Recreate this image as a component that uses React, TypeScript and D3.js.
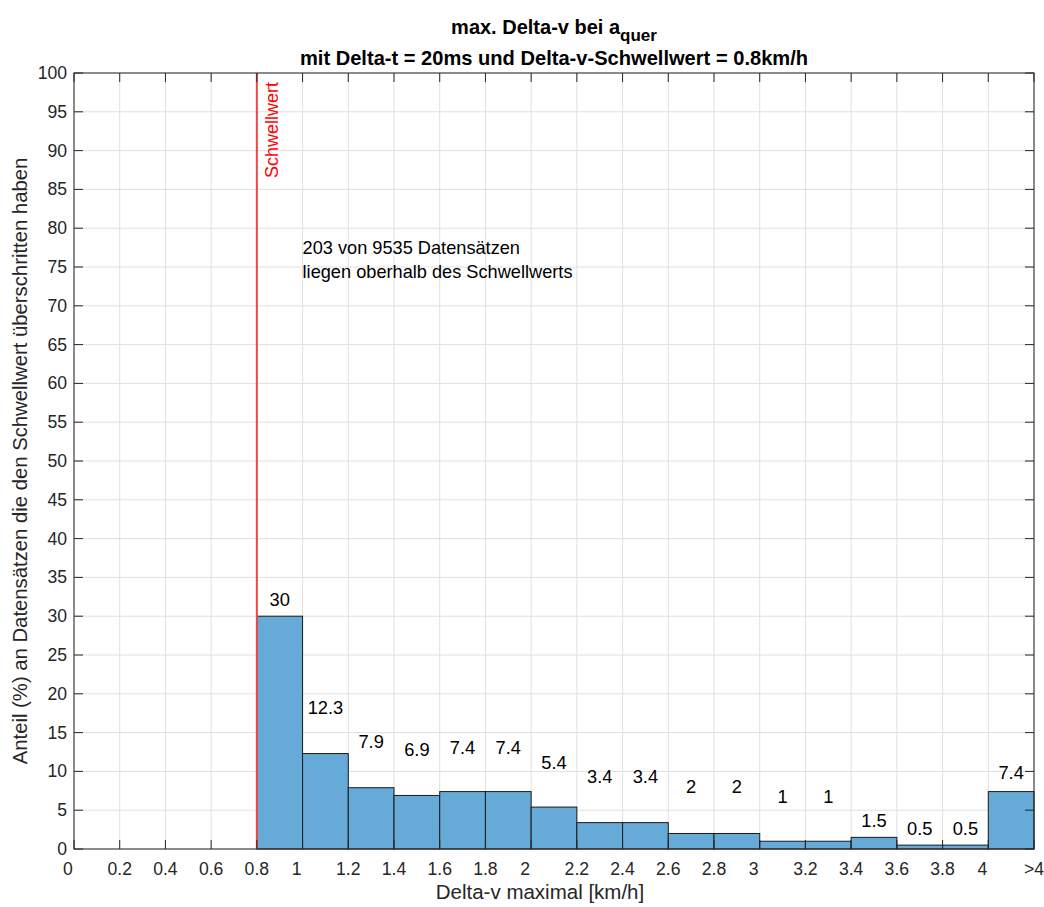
import React from "react";
import * as d3 from "d3";

// ---- data ----
const binStarts = [0.8, 1.0, 1.2, 1.4, 1.6, 1.8, 2.0, 2.2, 2.4, 2.6, 2.8, 3.0, 3.2, 3.4, 3.6, 3.8, 4.0];
const binWidth = 0.2;
const binValues = [30, 12.3, 7.9, 6.9, 7.4, 7.4, 5.4, 3.4, 3.4, 2, 2, 1, 1, 1.5, 0.5, 0.5, 7.4];
const binLabels = ["30", "12.3", "7.9", "6.9", "7.4", "7.4", "5.4", "3.4", "3.4", "2", "2", "1", "1", "1.5", "0.5", "0.5", "7.4"];
// y position (data units) of each value label
const binLabelY = [32.1, 18.2, 13.8, 12.8, 13.1, 13.1, 11.2, 9.3, 9.3, 8.0, 8.0, 6.8, 6.8, 3.7, 2.7, 2.7, 9.8];

const xTickValues = [0, 0.2, 0.4, 0.6, 0.8, 1, 1.2, 1.4, 1.6, 1.8, 2, 2.2, 2.4, 2.6, 2.8, 3, 3.2, 3.4, 3.6, 3.8, 4, 4.2];
const xTickLabels = ["0", "0.2", "0.4", "0.6", "0.8", "1", "1.2", "1.4", "1.6", "1.8", "2", "2.2", "2.4", "2.6", "2.8", "3", "3.2", "3.4", "3.6", "3.8", "4", ">4"];
const yTickValues = [0, 5, 10, 15, 20, 25, 30, 35, 40, 45, 50, 55, 60, 65, 70, 75, 80, 85, 90, 95, 100];

const threshold = 0.8;
const annotationX = 1.0;
const annotationY = [77.5, 74.3];
const annotationLines = ["203 von 9535 Datensätzen", "liegen oberhalb des Schwellwerts"];

const titleMain = "max. Delta-v bei a";
const titleSub = "quer";
const titleLine2 = "mit Delta-t = 20ms und Delta-v-Schwellwert = 0.8km/h";
const xLabel = "Delta-v maximal [km/h]";
const yLabel = "Anteil (%) an Datensätzen die den Schwellwert überschritten haben";
const thresholdLabel = "Schwellwert";

// ---- layout ----
const W = 1044;
const H = 907;
const M = { left: 74, right: 1034, top: 73, bottom: 849 };
const FONT = "'Liberation Sans', Arial, Helvetica, sans-serif";
const AX = "#262626";
const GRID = "#e0e0e0";
const BAR = "#66aad7";

export default function App() {
  const x = d3.scaleLinear().domain([0, 4.2]).range([M.left, M.right]);
  const y = d3.scaleLinear().domain([0, 100]).range([M.bottom, M.top]);
  const tickLen = 9;
  const cx = (M.left + M.right) / 2;
  const cy = (M.top + M.bottom) / 2;

  return (
    <svg width={W} height={H} style={{ position: "absolute", left: 0, top: 0, background: "#fff" }} fontFamily={FONT}>
      <rect x={0} y={0} width={W} height={H} fill="#fff" />
      {/* grid */}
      {xTickValues.map((v, i) => (
        <line key={"gx" + i} x1={x(v)} x2={x(v)} y1={M.top} y2={M.bottom} stroke={GRID} strokeWidth={1} />
      ))}
      {yTickValues.map((v, i) => (
        <line key={"gy" + i} x1={M.left} x2={M.right} y1={y(v)} y2={y(v)} stroke={GRID} strokeWidth={1} />
      ))}
      {/* bars */}
      {binStarts.map((s, i) => (
        <rect
          key={"b" + i}
          x={x(s)}
          y={y(binValues[i])}
          width={x(s + binWidth) - x(s)}
          height={y(0) - y(binValues[i])}
          fill={BAR}
          stroke="#1a1a1a"
          strokeWidth={1}
        />
      ))}
      {/* bar labels */}
      {binStarts.map((s, i) => (
        <text
          key={"bl" + i}
          x={x(s + binWidth / 2)}
          y={y(binLabelY[i])}
          textAnchor="middle"
          dominantBaseline="central"
          fontSize={18.3}
          fill="#000"
        >
          {binLabels[i]}
        </text>
      ))}
      {/* threshold line */}
      <line x1={x(threshold)} x2={x(threshold)} y1={M.top} y2={M.bottom} stroke="rgb(240,70,70)" strokeWidth={2} />
      <text
        transform={`translate(${x(threshold) + 15},${M.top + 9}) rotate(-90)`}
        textAnchor="end"
        dominantBaseline="central"
        fontSize={18}
        fill="#ff0000"
      >
        {thresholdLabel}
      </text>
      {/* annotation */}
      {annotationLines.map((t, i) => (
        <text key={"an" + i} x={x(annotationX)} y={y(annotationY[i])} dominantBaseline="central" fontSize={18.2} fill="#000">
          {t}
        </text>
      ))}
      {/* box */}
      <rect x={M.left} y={M.top} width={M.right - M.left} height={M.bottom - M.top} fill="none" stroke={AX} strokeWidth={1} />
      {/* ticks */}
      {xTickValues.map((v, i) => (
        <g key={"tx" + i}>
          <line x1={x(v)} x2={x(v)} y1={M.bottom} y2={M.bottom - tickLen} stroke={AX} />
          <line x1={x(v)} x2={x(v)} y1={M.top} y2={M.top + tickLen} stroke={AX} />
          <text
            x={x(v)}
            dx={xTickLabels[i].indexOf(".") < 0 && xTickLabels[i].indexOf(">") < 0 ? -6 : 0}
            y={869}
            textAnchor="middle"
            dominantBaseline="central"
            fontSize={17.6}
            fill={AX}
          >
            {xTickLabels[i]}
          </text>
        </g>
      ))}
      {yTickValues.map((v, i) => (
        <g key={"ty" + i}>
          <line x1={M.left} x2={M.left + tickLen} y1={y(v)} y2={y(v)} stroke={AX} />
          <line x1={M.right} x2={M.right - tickLen} y1={y(v)} y2={y(v)} stroke={AX} />
          <text x={M.left - 7} y={y(v)} textAnchor="end" dominantBaseline="central" fontSize={17.6} fill={AX}>
            {String(v)}
          </text>
        </g>
      ))}
      {/* axis labels */}
      <text x={540} y={891} textAnchor="middle" dominantBaseline="central" fontSize={20.5} fill={AX}>
        {xLabel}
      </text>
      <text
        transform={`translate(20,${cy}) rotate(-90)`}
        textAnchor="middle"
        dominantBaseline="central"
        fontSize={20.3}
        fill={AX}
      >
        {yLabel}
      </text>
      {/* title */}
      <text x={cx} y={27} textAnchor="middle" dominantBaseline="central" fontSize={20} fontWeight="bold" fill="#000">
        {titleMain}
        <tspan fontSize={17} dy={8}>{titleSub}</tspan>
      </text>
      <text x={cx} y={58} textAnchor="middle" dominantBaseline="central" fontSize={20.1} fontWeight="bold" fill="#000">
        {titleLine2}
      </text>
    </svg>
  );
}
